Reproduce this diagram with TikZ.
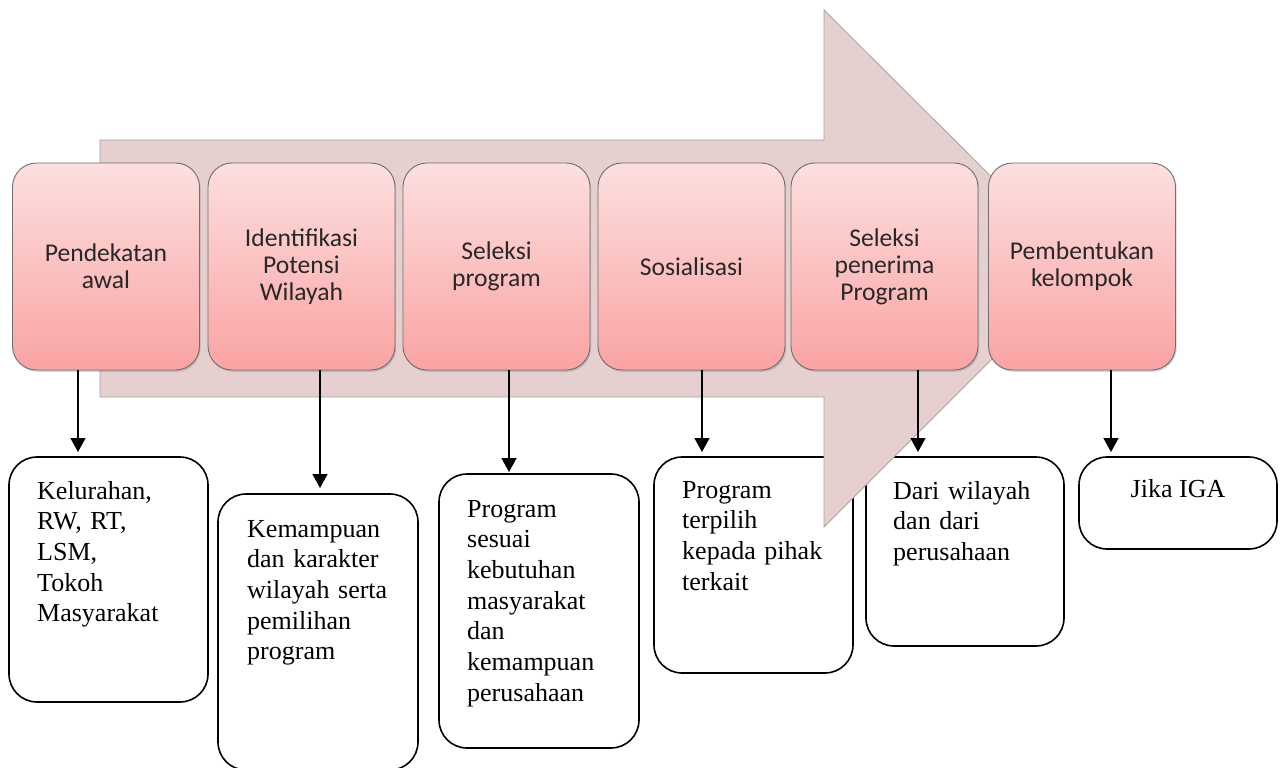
\documentclass[tikz,border=0pt]{standalone}
\usepackage{fontspec}
\setmainfont{Liberation Serif}
\newfontfamily\calfont{Carlito}
\usetikzlibrary{arrows.meta,shadows}
\definecolor{arrowfill}{RGB}{230,207,207}
\definecolor{arrowline}{RGB}{170,160,160}
\definecolor{boxtop}{RGB}{253,223,223}
\definecolor{boxbot}{RGB}{250,163,163}
\definecolor{boxline}{RGB}{110,110,110}
\definecolor{steptext}{RGB}{40,40,40}
\tikzset{
  stepbox/.style={rectangle, rounded corners=24pt, draw=boxline, line width=0.9pt,
    top color=boxtop, bottom color=boxbot, minimum width=187pt, minimum height=207pt,
    inner sep=0pt, font=\calfont\fontsize{25.6}{27}\selectfont, text=steptext, align=center,
    drop shadow={opacity=0.35, shadow xshift=1.2pt, shadow yshift=-1.8pt}},
  notebox/.style={rectangle, rounded corners=28pt, draw=black, line width=1.6pt, fill=white, inner sep=0pt},
  notetext/.style={anchor=north west, inner sep=0pt, font=\fontsize{26}{30.7}\selectfont, align=left, text width=185pt},
  arr/.style={line width=1.5pt, -{Triangle[width=15pt,length=14pt]}},
  bigarrow/.style={fill=arrowfill, draw=arrowline, line width=0.8pt}
}
\begin{document}
\begin{tikzpicture}[x=1pt,y=-1pt]
\useasboundingbox (0,0) rectangle (1280,768);
\clip (0,0) rectangle (1280,768);
% bottom boxes
\node[notebox, minimum width=199pt, minimum height=245pt] (n1) at (108.5,579.5) {};
\node[notebox, minimum width=200pt, minimum height=276pt] (n2) at (318,632) {};
\node[notebox, minimum width=200pt, minimum height=274pt] (n3) at (539,611) {};
\node[notebox, minimum width=199pt, minimum height=216pt] (n4) at (753.5,565) {};
\node[notebox, minimum width=198pt, minimum height=189pt] (n5) at (965,551.5) {};
\node[notebox, minimum width=198pt, minimum height=92pt] (n6) at (1178,503) {};
% big arrow
\draw[bigarrow] (100,140) -- (824,140) -- (824,10) -- (1083,268) -- (824,527) -- (824,397) -- (100,397) -- cycle;
% top step boxes
\node[stepbox] (t1) at (106,266.5) {Pendekatan\\awal};
\node[stepbox] (t2) at (301.5,266.5) {Identifikasi\\Potensi\\Wilayah};
\node[stepbox] (t3) at (496.5,266.5) {Seleksi\\program};
\node[stepbox] (t4) at (691.5,266.5) {Sosialisasi};
\node[stepbox] (t5) at (884.5,266.5) {Seleksi\\penerima\\Program};
\node[stepbox] (t6) at (1082,266.5) {Pembentukan\\kelompok};
% arrow tips
\coordinate (e1) at (78,452);
\coordinate (e2) at (320,488);
\coordinate (e3) at (509,472);
\coordinate (e4) at (702,452);
\coordinate (e5) at (918,452);
\coordinate (e6) at (1111,452);
\draw[arr] (t1.south -| e1) -- (e1);
\draw[arr] (t2.south -| e2) -- (e2);
\draw[arr] (t3.south -| e3) -- (e3);
\draw[arr] (t4.south -| e4) -- (e4);
\draw[arr] (t5.south -| e5) -- (e5);
\draw[arr] (t6.south -| e6) -- (e6);
% texts
\node[notetext] (x1) at (37,477.5) {\strut Kelurahan,\\RW, RT,\\LSM,\\Tokoh\\Masyarakat};
\node[notetext] (x2) at (247,515.5) {\strut Kemampuan\\dan karakter\\wilayah serta\\pemilihan\\program};
\node[notetext] (x3) at (467,495.5) {\strut Program\\sesuai\\kebutuhan\\masyarakat\\dan\\kemampuan\\perusahaan};
\node[notetext] (x4) at (682,476.5) {\strut Program\\terpilih\\kepada pihak\\terkait};
\node[notetext] (x5) at (893,477.5) {\strut Dari wilayah\\dan dari\\perusahaan};
\node[anchor=north, inner sep=0pt, font=\fontsize{26}{30.7}\selectfont] (x6) at (1178,475.5) {\strut Jika IGA};
\end{tikzpicture}
\end{document}
